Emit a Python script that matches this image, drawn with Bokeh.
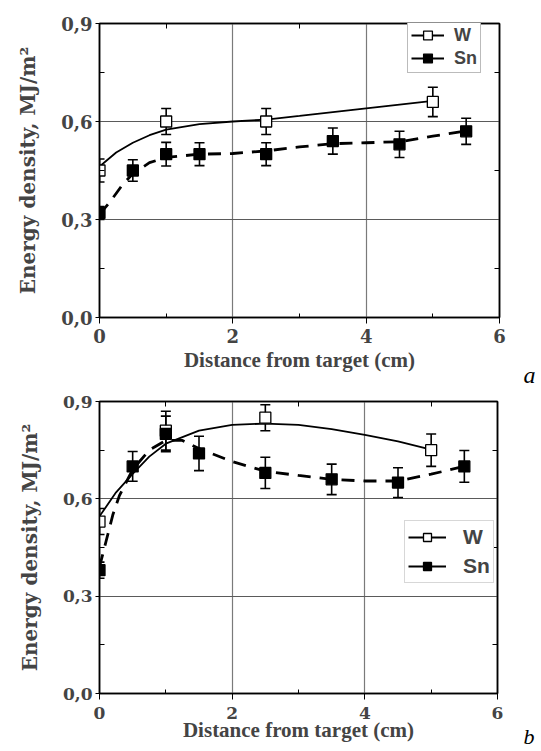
from bokeh.plotting import figure
from bokeh.models import (ColumnDataSource, Whisker, TeeHead, FixedTicker, LinearAxis,
                          CustomJSTickFormatter, Legend, LegendItem, Title, Range1d)
from bokeh.layouts import column
from bokeh.embed import file_html
from bokeh.resources import INLINE

# ---------------- data ----------------
x_ticks = [0, 2, 4, 6]
x_minor = [1, 3, 5]
y_ticks = [0.0, 0.3, 0.6, 0.9]
y_minor = [0.15, 0.45, 0.75]
x_label = "Distance from target (cm)"
y_label = "Energy density, MJ/m²"
series_names = ["W", "Sn"]
panel_letters = ["a", "b"]

# panel a
a_w_x = [0, 1, 2.5, 5]
a_w_y = [0.45, 0.60, 0.60, 0.66]
a_w_err = [0.035, 0.04, 0.04, 0.045]
a_sn_x = [0, 0.5, 1, 1.5, 2.5, 3.5, 4.5, 5.5]
a_sn_y = [0.32, 0.45, 0.50, 0.50, 0.50, 0.54, 0.53, 0.57]
a_sn_err = [0.02, 0.033, 0.036, 0.035, 0.035, 0.04, 0.04, 0.04]
a_w_fit_x = [0, 0.25, 0.5, 0.75, 1, 1.5, 2, 2.5, 3, 4, 5]
a_w_fit_y = [0.462, 0.505, 0.535, 0.558, 0.575, 0.592, 0.600, 0.606, 0.617, 0.640, 0.663]
a_sn_fit_x = [0, 0.15, 0.35, 0.5, 0.75, 1.0, 1.5, 2.0, 2.5, 3.0, 3.5, 4.0, 4.5, 5.0, 5.5]
a_sn_fit_y = [0.316, 0.352, 0.408, 0.44, 0.474, 0.49, 0.50, 0.502, 0.51, 0.522, 0.532,
              0.535, 0.538, 0.555, 0.571]

# panel b
b_w_x = [0, 1, 2.5, 5]
b_w_y = [0.53, 0.81, 0.85, 0.75]
b_w_err = [0.04, 0.06, 0.04, 0.05]
b_sn_x = [0, 0.5, 1, 1.5, 2.5, 3.5, 4.5, 5.5]
b_sn_y = [0.38, 0.70, 0.80, 0.74, 0.68, 0.66, 0.65, 0.70]
b_sn_err = [0.025, 0.046, 0.055, 0.053, 0.048, 0.047, 0.046, 0.049]
b_w_fit_x = [0, 0.25, 0.5, 0.75, 1, 1.5, 2, 2.5, 3, 3.5, 4, 4.5, 5]
b_w_fit_y = [0.546, 0.62, 0.677, 0.73, 0.77, 0.81, 0.828, 0.832, 0.828, 0.815, 0.797,
             0.777, 0.752]
b_sn_fit_x = [0, 0.1, 0.2, 0.3, 0.5, 0.75, 1.0, 1.25, 1.5, 2.0, 2.5, 3.0, 3.5, 4.0, 4.5,
              5.0, 5.5]
b_sn_fit_y = [0.39, 0.47, 0.55, 0.61, 0.69, 0.75, 0.78, 0.78, 0.755, 0.715, 0.685, 0.672,
              0.66, 0.655, 0.655, 0.676, 0.70]

SERIF = "Liberation Serif"
WIDE_SERIF = "DejaVu Serif"
SANS = "Liberation Sans"


def make_panel(w_x, w_y, w_err, sn_x, sn_y, sn_err, wfx, wfy, sfx, sfy, letter,
               frame_w, frame_h, top, bottom, right, tick_size, tick_standoff,
               x_label_standoff, legend_loc, legend_font, glyph_w, glyph_h, label_h,
               label_standoff, legend_spacing, legend_border, letter_offset,
               letter_standoff, letter_size):
    p = figure(frame_width=frame_w, frame_height=frame_h,
               x_range=Range1d(0, 6), y_range=Range1d(0, 0.9),
               output_backend="svg", toolbar_location=None,
               min_border_left=99, min_border_right=right,
               min_border_top=top, min_border_bottom=bottom,
               background_fill_color="white", border_fill_color="white")
    p.outline_line_color = "black"
    p.outline_line_width = 1.5

    xt = FixedTicker(ticks=x_ticks, minor_ticks=x_minor)
    yt = FixedTicker(ticks=y_ticks, minor_ticks=y_minor)

    xa = p.xaxis[0]
    xa.ticker = xt
    xa.formatter = CustomJSTickFormatter(code="return tick.toFixed(0);")
    xa.axis_label = x_label
    xa.axis_label_text_font = SERIF
    xa.axis_label_text_font_style = "bold"
    xa.axis_label_text_font_size = "21px"
    xa.axis_label_standoff = x_label_standoff
    xa.major_label_text_font = WIDE_SERIF
    xa.major_label_text_font_style = "bold"
    xa.major_label_text_font_size = tick_size
    xa.major_label_standoff = tick_standoff
    xa.major_tick_out = 6
    xa.major_tick_in = 0
    xa.minor_tick_in = 4
    xa.minor_tick_out = 0
    xa.axis_line_width = 1.5

    ya = p.yaxis[0]
    ya.ticker = yt
    ya.formatter = CustomJSTickFormatter(code="return tick.toFixed(1).replace('.', ',');")
    ya.axis_label = y_label
    ya.axis_label_text_font = WIDE_SERIF
    ya.axis_label_text_font_style = "bold"
    ya.axis_label_text_font_size = "20px"
    ya.axis_label_standoff = 18
    ya.major_label_text_font = WIDE_SERIF
    ya.major_label_text_font_style = "bold"
    ya.major_label_text_font_size = tick_size
    ya.major_label_standoff = 3
    ya.major_tick_out = 4
    ya.major_tick_in = 0
    ya.minor_tick_in = 5
    ya.minor_tick_out = 0
    ya.axis_line_width = 1.5

    # mirrored axes: only inward minor ticks, no labels
    for loc, minors in (("above", x_minor), ("right", y_minor)):
        ax = LinearAxis(ticker=FixedTicker(ticks=[], minor_ticks=minors),
                        major_tick_in=0, major_tick_out=0,
                        minor_tick_in=5, minor_tick_out=0,
                        major_label_standoff=0, axis_line_width=1.5)
        p.add_layout(ax, loc)

    p.xgrid.ticker = xt
    p.ygrid.ticker = yt
    p.xgrid.grid_line_color = "#7a7a7a"
    p.ygrid.grid_line_color = "#5a5a5a"
    p.xgrid.grid_line_width = 1.2
    p.ygrid.grid_line_width = 1.2

    # fit curves
    w_fit = p.line(wfx, wfy, line_color="black", line_width=1.8)
    p.line(sfx, sfy, line_color="black", line_width=2.8, line_dash="13 9")

    # error bars
    for xs, ys, es in ((w_x, w_y, w_err), (sn_x, sn_y, sn_err)):
        src = ColumnDataSource(dict(x=xs,
                                    upper=[v + e for v, e in zip(ys, es)],
                                    lower=[v - e for v, e in zip(ys, es)]))
        wk = Whisker(base="x", upper="upper", lower="lower", source=src,
                     line_width=1.6, line_color="black",
                     upper_head=TeeHead(size=10, line_width=1.6, line_color="black"),
                     lower_head=TeeHead(size=10, line_width=1.6, line_color="black"))
        p.add_layout(wk)

    w_r = p.scatter(w_x, w_y, marker="square", size=11, fill_color="white",
                    line_color="black", line_width=1.3)
    sn_r = p.scatter(sn_x, sn_y, marker="square", size=11, fill_color="black",
                     line_color="black", line_width=1.3)

    # legend shows a solid line with each marker
    legend = Legend(items=[LegendItem(label=series_names[0], renderers=[w_fit, w_r]),
                           LegendItem(label=series_names[1], renderers=[w_fit, sn_r])],
                    location=legend_loc,
                    label_text_font=SANS, label_text_font_style="bold",
                    label_text_font_size=legend_font,
                    glyph_width=glyph_w, glyph_height=glyph_h,
                    label_height=label_h, label_standoff=label_standoff,
                    spacing=legend_spacing, padding=3, margin=0,
                    border_line_color=legend_border, border_line_width=1.2,
                    background_fill_color="white", background_fill_alpha=1.0)
    p.add_layout(legend)

    # panel letter, placed in the panel below the x axis, far right
    p.add_layout(Title(text=letter, align="left", offset=letter_offset,
                       standoff=letter_standoff, vertical_align="top",
                       text_font=SERIF, text_font_style="italic",
                       text_font_size=letter_size, text_color="black"), "below")
    return p


pa = make_panel(a_w_x, a_w_y, a_w_err, a_sn_x, a_sn_y, a_sn_err,
                a_w_fit_x, a_w_fit_y, a_sn_fit_x, a_sn_fit_y, panel_letters[0],
                frame_w=400, frame_h=294, top=23, bottom=73, right=42,
                tick_size="18px", tick_standoff=5, x_label_standoff=2,
                legend_loc=(308, 244), legend_font="18px", glyph_w=33, glyph_h=22,
                label_h=21, label_standoff=10, legend_spacing=1,
                legend_border="#777777", letter_offset=424, letter_standoff=-26,
                letter_size="24px")

pb = make_panel(b_w_x, b_w_y, b_w_err, b_sn_x, b_sn_y, b_sn_err,
                b_w_fit_x, b_w_fit_y, b_sn_fit_x, b_sn_fit_y, panel_letters[1],
                frame_w=398, frame_h=292, top=11, bottom=58, right=44,
                tick_size="17px", tick_standoff=7, x_label_standoff=-4,
                legend_loc=(305, 110), legend_font="21px", glyph_w=38, glyph_h=20,
                label_h=26, label_standoff=17, legend_spacing=3,
                legend_border="#b0b0b0", letter_offset=424, letter_standoff=-42,
                letter_size="22px")

layout = column(pa, pb, spacing=0)
open("out.html", "w").write(file_html(layout, INLINE))
